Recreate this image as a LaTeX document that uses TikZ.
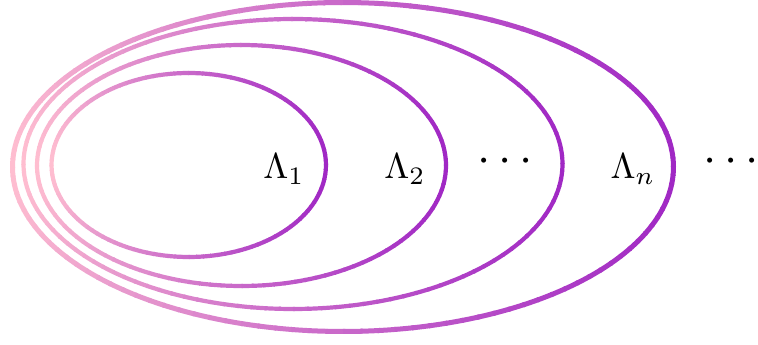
\documentclass[tikz,border=0pt]{standalone}
\definecolor{lc}{RGB}{255,190,208}
\definecolor{rc}{RGB}{160,40,196}
\newcommand\gradellipse[5]{%
  \foreach \t in {0,3,...,357}{%
    \pgfmathsetmacro\p{100*((1+cos(\t+1.5))/2)^0.8}%
    \draw[line width=#5, line cap=butt, color=rc!\p!lc]
      ({#1+#3*cos(\t)},{#2+#4*sin(\t)})
      arc[start angle=\t, end angle=\t+3.4, x radius=#3, y radius=#4];
  }}
\begin{document}
\begin{tikzpicture}[x=1pt,y=1pt,
  lab/.style={scale=3.6, transform shape, inner sep=0pt, anchor=base},
  dots/.style={scale=4.75, transform shape, inner sep=0pt, anchor=base}]
\useasboundingbox (0,0) rectangle (758,345);
\gradellipse{188.75}{180}{137.25}{92}{4.2pt}
\gradellipse{241.5}{179.5}{204.5}{120.5}{4.2pt}
\gradellipse{293}{181}{269.5}{145}{4.2pt}
\gradellipse{343}{178}{330.5}{164.5}{5pt}
\node[lab] (l1) at (284,166) {$\Lambda_1$};
\node[lab] (l2) at (405,166) {$\Lambda_2$};
\node[dots] (d1) at (505.5,172) {$\cdots$};
\node[lab] (ln) at (633,166) {$\Lambda_n$};
\node[dots] (d2) at (731,172) {$\cdots$};
\end{tikzpicture}
\end{document}
